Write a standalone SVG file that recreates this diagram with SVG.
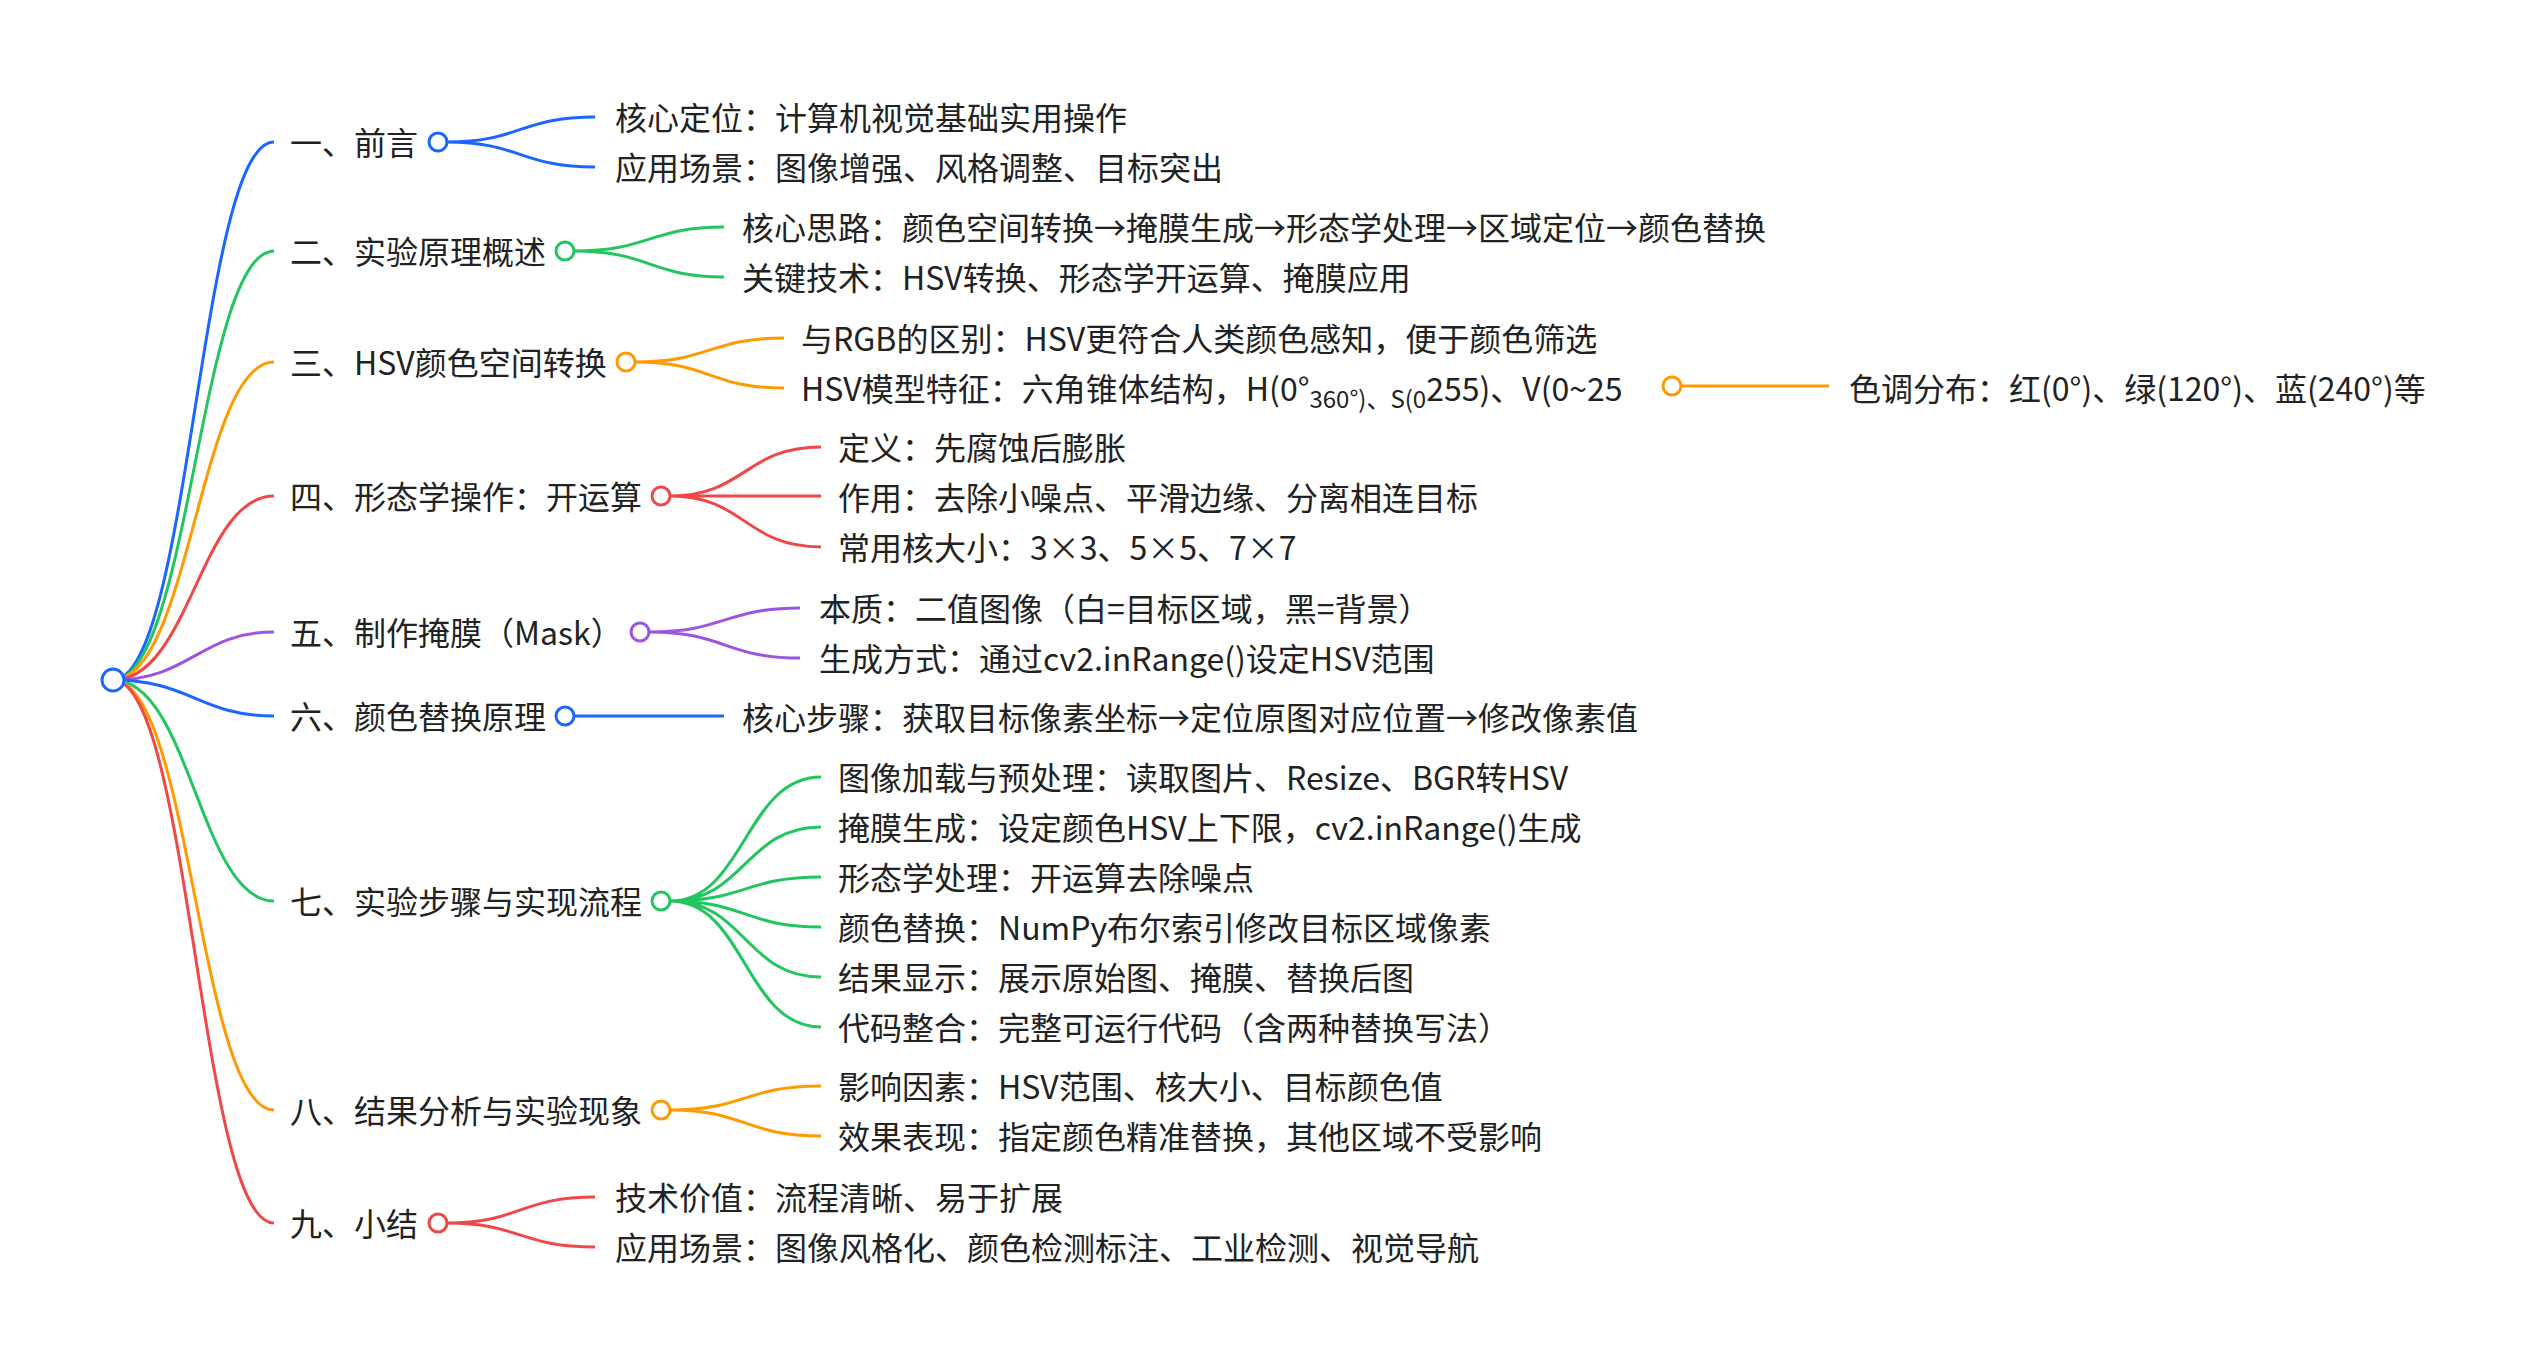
<svg xmlns="http://www.w3.org/2000/svg" width="2523" height="1362" viewBox="0 0 2523 1362">
<style>
text{font-family:"Noto Sans CJK SC","Noto Sans",sans-serif;font-size:32px;fill:#222;dominant-baseline:central}
.l{fill:none;stroke-width:3}
.c{fill:#fff;stroke-width:3}
.b{stroke:#1a66ff}.g{stroke:#22c55e}.o{stroke:#ff9a00}.r{stroke:#f04848}.p{stroke:#9b55e0}
</style>
<rect width="2523" height="1362" fill="#fff"/>
<g id="connectors">
<path class="l b" d="M113,680 C190,680 200,142 274,142"/>
<path class="l g" d="M113,680 C190,680 200,251 274,251"/>
<path class="l o" d="M113,680 C190,680 200,362 274,362"/>
<path class="l r" d="M113,680 C190,680 200,496 274,496"/>
<path class="l p" d="M113,680 C190,680 200,632 274,632"/>
<path class="l b" d="M113,680 C190,680 200,716 274,716"/>
<path class="l g" d="M113,680 C190,680 200,901 274,901"/>
<path class="l o" d="M113,680 C190,680 200,1110 274,1110"/>
<path class="l r" d="M113,680 C190,680 200,1223 274,1223"/>
<path class="l b" d="M447,142 C520,142 520,117 595,117 M447,142 C520,142 520,167 595,167"/>
<path class="l g" d="M574,251 C650,251 650,227 724,227 M574,251 C650,251 650,277 724,277"/>
<path class="l o" d="M635,362 C710,362 710,338 784,338 M635,362 C710,362 710,388 784,388"/>
<path class="l o" d="M1681,386 L1829,386"/>
<path class="l r" d="M670,496 C745,496 745,447 821,447 M670,496 L821,496 M670,496 C745,496 745,547 821,547"/>
<path class="l p" d="M649,632 C725,632 725,608 800,608 M649,632 C725,632 725,658 800,658"/>
<path class="l b" d="M574,716 L724,716"/>
<path class="l g" d="M670,901 C745,901 745,777 821,777 M670,901 C745,901 745,827 821,827 M670,901 C745,901 745,877 821,877 M670,901 C745,901 745,927 821,927 M670,901 C745,901 745,977 821,977 M670,901 C745,901 745,1027 821,1027"/>
<path class="l o" d="M670,1110 C745,1110 745,1086 821,1086 M670,1110 C745,1110 745,1136 821,1136"/>
<path class="l r" d="M447,1223 C520,1223 520,1197 595,1197 M447,1223 C520,1223 520,1247 595,1247"/>
</g>
<g id="root"><circle class="c b" cx="113" cy="680" r="11"/></g>
<g id="n1"><text x="290" y="141">一、前言</text><circle class="c b" cx="438" cy="142" r="9"/></g>
<g id="n1a"><text x="615" y="116">核心定位：计算机视觉基础实用操作</text></g>
<g id="n1b"><text x="615" y="166">应用场景：图像增强、风格调整、目标突出</text></g>
<g id="n2"><text x="290" y="250">二、实验原理概述</text><circle class="c g" cx="565" cy="251" r="9"/></g>
<g id="n2a"><text x="742" y="226">核心思路：颜色空间转换→掩膜生成→形态学处理→区域定位→颜色替换</text></g>
<g id="n2b"><text x="742" y="276">关键技术：HSV转换、形态学开运算、掩膜应用</text></g>
<g id="n3"><text x="290" y="361">三、HSV颜色空间转换</text><circle class="c o" cx="626" cy="362" r="9"/></g>
<g id="n3a"><text x="801" y="337">与RGB的区别：HSV更符合人类颜色感知，便于颜色筛选</text></g>
<g id="n3b"><text x="801" y="387">HSV模型特征：六角锥体结构，H(0°<tspan font-size="24" dy="10">360°)、S(0</tspan><tspan dy="-10">255)、V(0~25</tspan></text><circle class="c o" cx="1672" cy="386" r="9"/></g>
<g id="n3b1"><text x="1849" y="387">色调分布：红(0°)、绿(120°)、蓝(240°)等</text></g>
<g id="n4"><text x="290" y="495">四、形态学操作：开运算</text><circle class="c r" cx="661" cy="496" r="9"/></g>
<g id="n4a"><text x="838" y="446">定义：先腐蚀后膨胀</text></g>
<g id="n4b"><text x="838" y="496">作用：去除小噪点、平滑边缘、分离相连目标</text></g>
<g id="n4c"><text x="838" y="546">常用核大小：3×3、5×5、7×7</text></g>
<g id="n5"><text x="290" y="631">五、制作掩膜（Mask）</text><circle class="c p" cx="640" cy="632" r="9"/></g>
<g id="n5a"><text x="819" y="607">本质：二值图像（白=目标区域，黑=背景）</text></g>
<g id="n5b"><text x="819" y="657">生成方式：通过cv2.inRange()设定HSV范围</text></g>
<g id="n6"><text x="290" y="715">六、颜色替换原理</text><circle class="c b" cx="565" cy="716" r="9"/></g>
<g id="n6a"><text x="742" y="716">核心步骤：获取目标像素坐标→定位原图对应位置→修改像素值</text></g>
<g id="n7"><text x="290" y="900">七、实验步骤与实现流程</text><circle class="c g" cx="661" cy="901" r="9"/></g>
<g id="n7a"><text x="838" y="776">图像加载与预处理：读取图片、Resize、BGR转HSV</text></g>
<g id="n7b"><text x="838" y="826">掩膜生成：设定颜色HSV上下限，cv2.inRange()生成</text></g>
<g id="n7c"><text x="838" y="876">形态学处理：开运算去除噪点</text></g>
<g id="n7d"><text x="838" y="926">颜色替换：NumPy布尔索引修改目标区域像素</text></g>
<g id="n7e"><text x="838" y="976">结果显示：展示原始图、掩膜、替换后图</text></g>
<g id="n7f"><text x="838" y="1026">代码整合：完整可运行代码（含两种替换写法）</text></g>
<g id="n8"><text x="290" y="1109">八、结果分析与实验现象</text><circle class="c o" cx="661" cy="1110" r="9"/></g>
<g id="n8a"><text x="838" y="1085">影响因素：HSV范围、核大小、目标颜色值</text></g>
<g id="n8b"><text x="838" y="1135">效果表现：指定颜色精准替换，其他区域不受影响</text></g>
<g id="n9"><text x="290" y="1222">九、小结</text><circle class="c r" cx="438" cy="1223" r="9"/></g>
<g id="n9a"><text x="615" y="1196">技术价值：流程清晰、易于扩展</text></g>
<g id="n9b"><text x="615" y="1246">应用场景：图像风格化、颜色检测标注、工业检测、视觉导航</text></g>
</svg>
